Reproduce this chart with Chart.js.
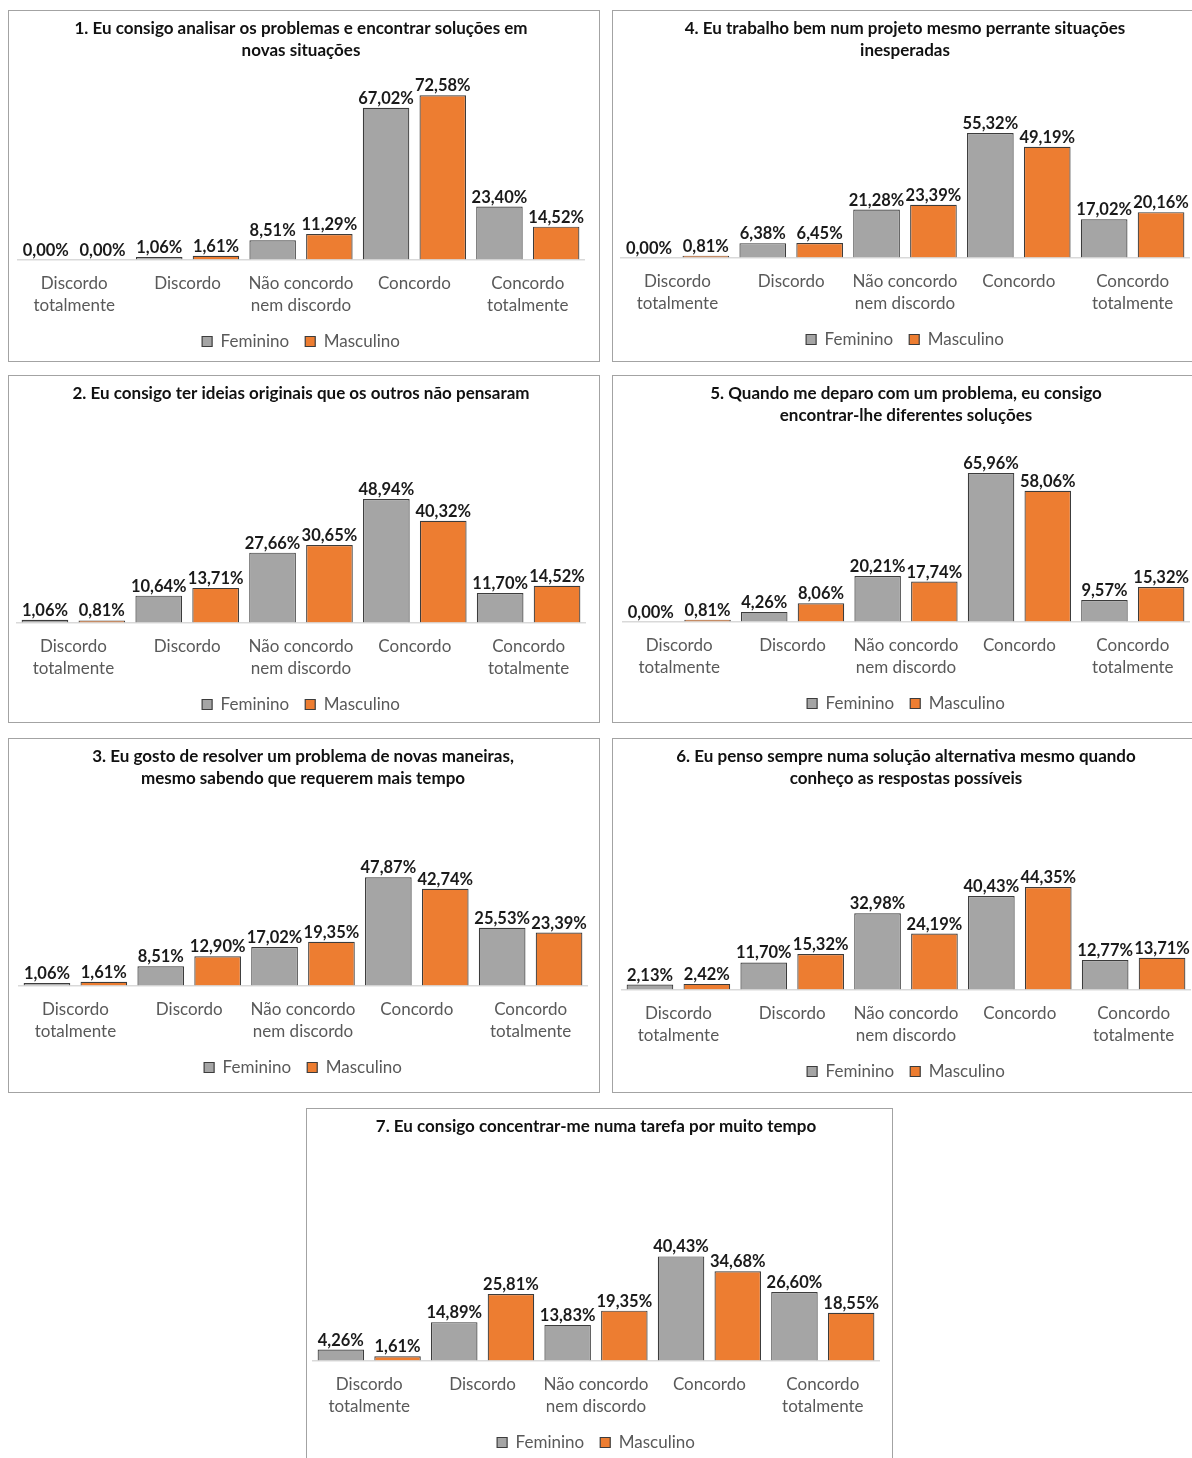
<!DOCTYPE html>
<html lang="pt">
<head>
<meta charset="utf-8">
<title>Criatividade por género</title>
<script src="https://cdn.jsdelivr.net/npm/chart.js@4.4.1/dist/chart.umd.min.js"></script>
<style>
  html, body { margin: 0; padding: 0; background: #fff; width: 1192px; height: 1458px; overflow: hidden; }
  .painel { position: absolute; box-sizing: border-box; border: 1.5px solid #a3a3a3; background: #fff; overflow: hidden; }
  .painel canvas { position: absolute; left: 0; top: 0; }
</style>
</head>
<body>
<script>
// Categorias de resposta (escala de Likert)
const categorias = [
  ['Discordo', 'totalmente'],
  'Discordo',
  ['Não concordo', 'nem discordo'],
  'Concordo',
  ['Concordo', 'totalmente']
];
const series = ['Feminino', 'Masculino'];

// 1.
const titulo1 = ['1. Eu consigo analisar os problemas e encontrar soluções em', 'novas situações'];
const feminino1 = [0.00, 1.06, 8.51, 67.02, 23.40];
const masculino1 = [0.00, 1.61, 11.29, 72.58, 14.52];
// 2.
const titulo2 = ['2. Eu consigo ter ideias originais que os outros não pensaram'];
const feminino2 = [1.06, 10.64, 27.66, 48.94, 11.70];
const masculino2 = [0.81, 13.71, 30.65, 40.32, 14.52];
// 3.
const titulo3 = ['3. Eu gosto de resolver um problema de novas maneiras,', 'mesmo sabendo que requerem mais tempo'];
const feminino3 = [1.06, 8.51, 17.02, 47.87, 25.53];
const masculino3 = [1.61, 12.90, 19.35, 42.74, 23.39];
// 4.
const titulo4 = ['4. Eu trabalho bem num projeto mesmo perrante situações', 'inesperadas'];
const feminino4 = [0.00, 6.38, 21.28, 55.32, 17.02];
const masculino4 = [0.81, 6.45, 23.39, 49.19, 20.16];
// 5.
const titulo5 = ['5. Quando me deparo com um problema, eu consigo', 'encontrar-lhe diferentes soluções'];
const feminino5 = [0.00, 4.26, 20.21, 65.96, 9.57];
const masculino5 = [0.81, 8.06, 17.74, 58.06, 15.32];
// 6.
const titulo6 = ['6. Eu penso sempre numa solução alternativa mesmo quando', 'conheço as respostas possíveis'];
const feminino6 = [2.13, 11.70, 32.98, 40.43, 12.77];
const masculino6 = [2.42, 15.32, 24.19, 44.35, 13.71];
// 7.
const titulo7 = ['7. Eu consigo concentrar-me numa tarefa por muito tempo'];
const feminino7 = [4.26, 14.89, 13.83, 40.43, 26.60];
const masculino7 = [1.61, 25.81, 19.35, 34.68, 18.55];

const eixoMax = 80;

// Caixa de cada painel e área de desenho (em píxeis da página)
const graficos = [
  { titulo: titulo1, fem: feminino1, masc: masculino1, caixa: { x: 8,   y: 10,   w: 592, h: 352 }, area: { l: 18,  r: 585,  t: 79,   b: 260 } },
  { titulo: titulo4, fem: feminino4, masc: masculino4, caixa: { x: 612, y: 10,   w: 592, h: 352 }, area: { l: 621, r: 1190, t: 78,   b: 258 } },
  { titulo: titulo2, fem: feminino2, masc: masculino2, caixa: { x: 8,   y: 375,  w: 592, h: 348 }, area: { l: 17,  r: 586,  t: 421,  b: 623 } },
  { titulo: titulo5, fem: feminino5, masc: masculino5, caixa: { x: 612, y: 375,  w: 592, h: 348 }, area: { l: 623, r: 1190, t: 442,  b: 622 } },
  { titulo: titulo3, fem: feminino3, masc: masculino3, caixa: { x: 8,   y: 738,  w: 592, h: 355 }, area: { l: 19,  r: 588,  t: 805,  b: 986 } },
  { titulo: titulo6, fem: feminino6, masc: masculino6, caixa: { x: 612, y: 738,  w: 592, h: 355 }, area: { l: 622, r: 1191, t: 805,  b: 990 } },
  { titulo: titulo7, fem: feminino7, masc: masculino7, caixa: { x: 306, y: 1108, w: 587, h: 380 }, area: { l: 313, r: 880,  t: 1155, b: 1361 } }
];

const FONTE = 'Lato, "Open Sans", "Liberation Sans", sans-serif';
Chart.defaults.font.family = FONTE;
Chart.defaults.color = '#595959';

const corFem = '#a5a5a5';
const corMasc = '#ed7d31';
const corContorno = '#3c3c3c';

function formatarPct(v) {
  return v.toFixed(2).replace('.', ',') + '%';
}

// Rótulos de valor por cima de cada barra
const rotulosValor = {
  id: 'rotulosValor',
  afterDatasetsDraw(chart) {
    const ctx = chart.ctx;
    ctx.save();
    ctx.font = 'bold 16.5px ' + FONTE;
    ctx.fillStyle = '#1a1a1a';
    ctx.textAlign = 'center';
    ctx.textBaseline = 'alphabetic';
    chart.data.datasets.forEach((ds, i) => {
      chart.getDatasetMeta(i).data.forEach((barra, j) => {
        ctx.fillText(formatarPct(ds.data[j]), barra.x, barra.y - 4);
      });
    });
    ctx.restore();
  }
};

const BORDA = 1.5;

graficos.forEach(g => {
  const painel = document.createElement('div');
  painel.className = 'painel';
  painel.style.left = g.caixa.x + 'px';
  painel.style.top = g.caixa.y + 'px';
  painel.style.width = g.caixa.w + 'px';
  painel.style.height = g.caixa.h + 'px';
  const canvas = document.createElement('canvas');
  const cw = g.caixa.w - 2 * BORDA;
  const ch = g.caixa.h - 2 * BORDA + 40;
  canvas.width = cw; canvas.height = ch;
  canvas.style.width = cw + 'px'; canvas.style.height = ch + 'px';
  painel.appendChild(canvas);
  document.body.appendChild(painel);

  const ox = g.caixa.x + BORDA, oy = g.caixa.y + BORDA;
  const alvo = { left: g.area.l - ox, right: g.area.r - ox, top: g.area.t - oy, bottom: g.area.b - oy };

  const paddingTitulo = { top: 6, bottom: 16 };
  const paddingLayout = { left: alvo.left, right: cw - alvo.right, top: 0, bottom: 0 };

  const opcoes = {
    responsive: false,
    animation: false,
    devicePixelRatio: 1,
    layout: { padding: paddingLayout },
    plugins: {
      title: {
        display: true,
        text: g.titulo,
        color: '#111',
        font: { size: 17, weight: 'bold', lineHeight: 1.3 },
        padding: paddingTitulo
      },
      legend: {
        display: true,
        position: 'bottom',
        labels: {
          boxWidth: 10,
          boxHeight: 10,
          padding: 16,
          color: '#595959',
          font: { size: 17 }
        }
      },
      tooltip: { enabled: false }
    },
    scales: {
      x: {
        grid: { display: false, drawTicks: false },
        border: { display: true, color: '#d9d9d9', width: 1.5 },
        ticks: {
          color: '#595959',
          font: { size: 17, lineHeight: 1.3 },
          padding: 13,
          maxRotation: 0,
          autoSkip: false
        },
        afterFit(scale) { scale.height = 57.5; }
      },
      y: { display: false, min: 0, max: eixoMax }
    }
  };

  const chart = new Chart(canvas, {
    type: 'bar',
    data: {
      labels: categorias,
      datasets: [
        { label: series[0], data: g.fem, backgroundColor: corFem, borderColor: corContorno, borderWidth: 1.2, barPercentage: 0.82, categoryPercentage: 1 },
        { label: series[1], data: g.masc, backgroundColor: corMasc, borderColor: corContorno, borderWidth: 1.2, barPercentage: 0.82, categoryPercentage: 1 }
      ]
    },
    options: opcoes,
    plugins: [rotulosValor]
  });

  // Acerta a área de desenho ao topo e à base pretendidos
  for (let k = 0; k < 2; k++) {
    const a = chart.chartArea;
    paddingTitulo.bottom += alvo.top - a.top;
    paddingLayout.bottom += a.bottom - alvo.bottom;
    chart.options.plugins.title.padding = { top: paddingTitulo.top, bottom: paddingTitulo.bottom };
    chart.options.layout.padding = { left: paddingLayout.left, right: paddingLayout.right, top: 0, bottom: paddingLayout.bottom };
    chart.update('none');
  }
});
</script>
</body>
</html>
